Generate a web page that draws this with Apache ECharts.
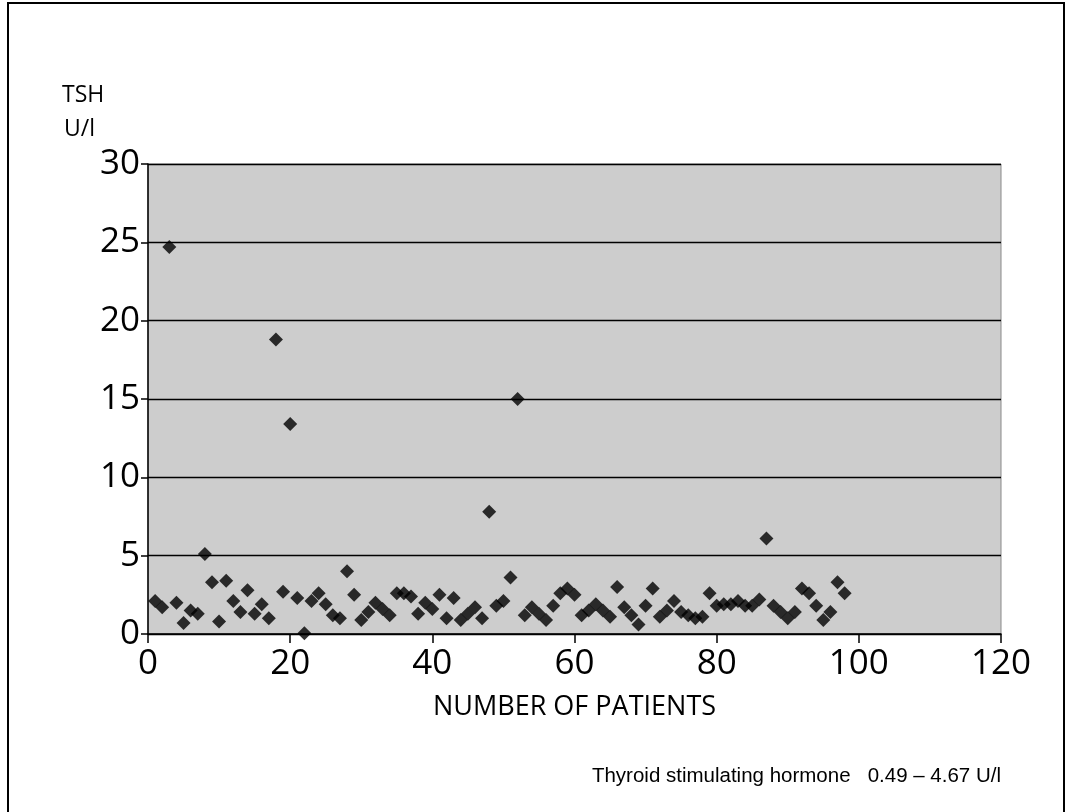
<!DOCTYPE html>
<html>
<head>
<meta charset="utf-8">
<script src="https://cdn.jsdelivr.net/npm/echarts@6/dist/echarts.min.js"></script>
<style>
html,body{margin:0;padding:0;background:#fff;}
#chart{width:1067px;height:812px;}
</style>
</head>
<body>
<div id="chart"></div>
<script>
// patient number (x) and TSH value (y, U/l)
var patients = [1,2,3,4,5,6,7,8,9,10,11,12,13,14,15,16,17,18,19,20,
  21,22,23,24,25,26,27,28,29,30,31,32,33,34,35,36,37,38,39,40,
  41,42,43,44,45,46,47,48,49,50,51,52,53,54,55,56,57,58,59,60,
  61,62,63,64,65,66,67,68,69,70,71,72,73,74,75,76,77,78,79,80,
  81,82,83,84,85,86,87,88,89,90,91,92,93,94,95,96,97,98];
var tsh = [2.1,1.7,24.7,2.0,0.7,1.5,1.3,5.1,3.3,0.8,3.4,2.1,1.4,2.8,1.3,1.9,1.0,18.8,2.7,13.4,
  2.3,0.05,2.1,2.6,1.9,1.2,1.0,4.0,2.5,0.9,1.4,2.0,1.6,1.2,2.6,2.6,2.4,1.3,2.0,1.6,
  2.5,1.0,2.3,0.9,1.3,1.7,1.0,7.8,1.8,2.1,3.6,15.0,1.2,1.7,1.3,0.9,1.8,2.6,2.9,2.5,
  1.2,1.5,1.9,1.5,1.1,3.0,1.7,1.2,0.6,1.8,2.9,1.1,1.5,2.1,1.4,1.2,1.0,1.1,2.6,1.8,
  1.9,1.9,2.1,1.8,1.8,2.2,6.1,1.8,1.4,1.0,1.4,2.9,2.6,1.8,0.9,1.4,3.3,2.6];
var xTicks = [0,20,40,60,80,100,120];
var yTicks = [0,5,10,15,20,25,30];
var yTitle = ['TSH','U/l'];
var xTitle = 'NUMBER OF PATIENTS';
var footnote = 'Thyroid stimulating hormone   0.49 \u2013 4.67 U/l';

var points = patients.map(function(p,i){ return [p, tsh[i]]; });
var labelFont = '"Open Sans", sans-serif';

var chart = echarts.init(document.getElementById('chart'), null, {renderer:'canvas'});
chart.setOption({
  animation: false,
  backgroundColor: '#ffffff',
  grid: {left:148, right:66, top:164, bottom:178, show:true, backgroundColor:'#cdcdcd', borderColor:'#8a8a8a', borderWidth:1},
  xAxis: {
    type:'value', min:xTicks[0], max:xTicks[xTicks.length-1], interval:20,
    axisLine:{show:true, onZero:false, lineStyle:{color:'#000', width:1.5}},
    axisTick:{show:true, inside:false, length:9, lineStyle:{color:'#000', width:1.5}},
    axisLabel:{color:'#000', fontFamily:labelFont, fontSize:35, margin:13},
    splitLine:{show:false},
    name: xTitle, nameLocation:'middle', nameGap:60,
    nameTextStyle:{color:'#000', fontFamily:labelFont, fontSize:27}
  },
  yAxis: {
    type:'value', min:yTicks[0], max:yTicks[yTicks.length-1], interval:5,
    axisLine:{show:true, onZero:false, lineStyle:{color:'#000', width:1.5}},
    axisTick:{show:true, inside:false, length:7, lineStyle:{color:'#000', width:1.5}},
    axisLabel:{color:'#000', fontFamily:labelFont, fontSize:35, margin:8},
    splitLine:{show:true, lineStyle:{color:'#000', width:1.4}}
  },
  graphic: [
    {type:'rect', shape:{x:8, y:3, width:1056, height:830}, style:{fill:null, stroke:'#000', lineWidth:2}, silent:true, z:-1},
    {type:'text', left:62, top:84, style:{text:yTitle[0], fill:'#000', font:'23px "Open Sans", sans-serif'}},
    {type:'text', left:64, top:118, style:{text:yTitle[1], fill:'#000', font:'23px "Open Sans", sans-serif'}},
    {type:'text', right:66, top:766, style:{text:footnote, fill:'#000', font:'20.5px "Liberation Sans", Arial, sans-serif'}}
  ],
  series: [{
    type:'scatter', data:points, symbol:'diamond', symbolSize:14,
    itemStyle:{color:'#000'}
  }]
});
</script>
</body>
</html>
